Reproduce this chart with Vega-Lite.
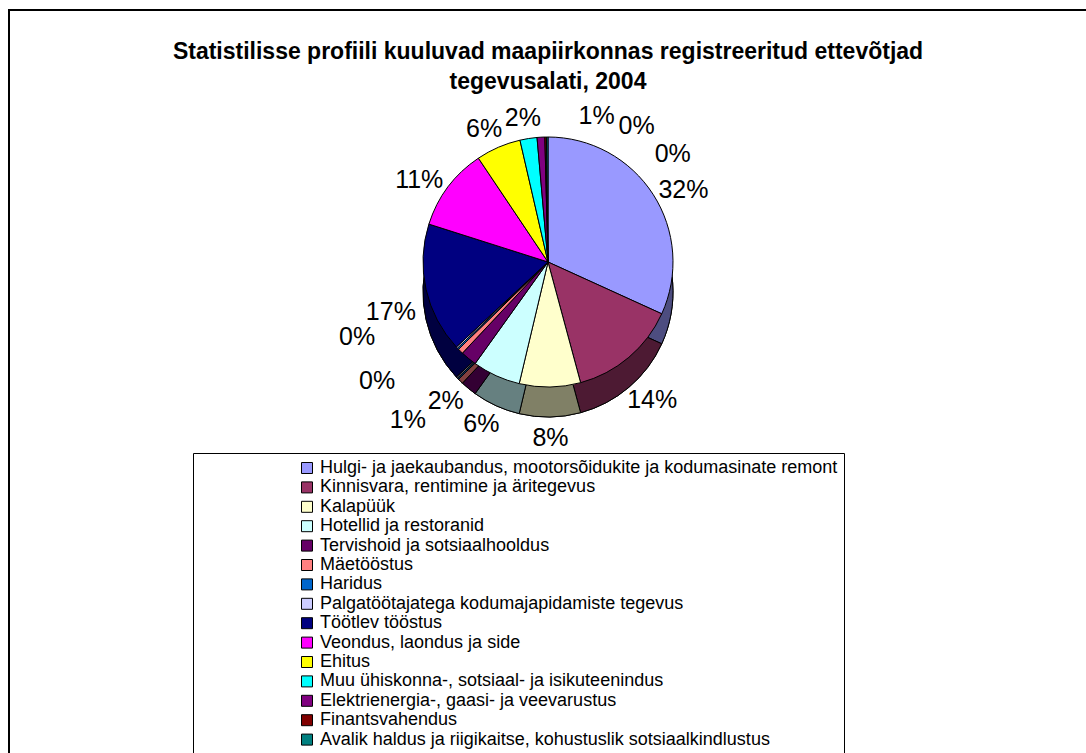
{
  "$schema": "https://vega.github.io/schema/vega-lite/v6.json",
  "autosize": {"type": "none"},
  "width": 1078,
  "height": 800,
  "padding": {"top": 10, "left": 9, "right": 0, "bottom": 0},
  "background": "white",
  "view": {"stroke": "black", "strokeWidth": 2},
  "title": {
    "text": ["Statistilisse profiili kuuluvad maapiirkonnas registreeritud ettevõtjad", "tegevusalati, 2004"],
    "anchor": "middle",
    "font": "Liberation Sans",
    "fontSize": 23,
    "fontWeight": "bold",
    "color": "black",
    "lineHeight": 30,
    "dy": 88
  },
  "data": {
    "values": [
      {"sektor": "Hulgi- ja jaekaubandus, mootorsõidukite ja kodumasinate remont", "osa": 0.318},
      {"sektor": "Kinnisvara, rentimine ja äritegevus", "osa": 0.140},
      {"sektor": "Kalapüük", "osa": 0.079},
      {"sektor": "Hotellid ja restoranid", "osa": 0.062},
      {"sektor": "Tervishoid ja sotsiaalhooldus", "osa": 0.021},
      {"sektor": "Mäetööstus", "osa": 0.007},
      {"sektor": "Haridus", "osa": 0.002},
      {"sektor": "Palgatöötajatega kodumajapidamiste tegevus", "osa": 0.002},
      {"sektor": "Töötlev tööstus", "osa": 0.168},
      {"sektor": "Veondus, laondus ja side", "osa": 0.107},
      {"sektor": "Ehitus", "osa": 0.058},
      {"sektor": "Muu ühiskonna-, sotsiaal- ja isikuteenindus", "osa": 0.022},
      {"sektor": "Elektrienergia-, gaasi- ja veevarustus", "osa": 0.010},
      {"sektor": "Finantsvahendus", "osa": 0.002},
      {"sektor": "Avalik haldus ja riigikaitse, kohustuslik sotsiaalkindlustus", "osa": 0.002}
    ]
  },
  "transform": [{"window": [{"op": "row_number", "as": "idx"}]}],
  "encoding": {
    "theta": {"field": "osa", "type": "quantitative", "stack": true},
    "order": {"field": "idx", "type": "quantitative"}
  },
  "layer": [
    {
      "mark": {"type": "arc", "radius": 125, "yOffset": -118, "fill": "black", "stroke": "black", "strokeWidth": 1}
    },
    {
      "mark": {"type": "arc", "radius": 125, "yOffset": -118, "fillOpacity": 0.5, "stroke": "black", "strokeWidth": 1},
      "encoding": {
        "color": {"field": "sektor", "type": "nominal",
          "scale": {
            "domain": ["Hulgi- ja jaekaubandus, mootorsõidukite ja kodumasinate remont", "Kinnisvara, rentimine ja äritegevus", "Kalapüük", "Hotellid ja restoranid", "Tervishoid ja sotsiaalhooldus", "Mäetööstus", "Haridus", "Palgatöötajatega kodumajapidamiste tegevus", "Töötlev tööstus", "Veondus, laondus ja side", "Ehitus", "Muu ühiskonna-, sotsiaal- ja isikuteenindus", "Elektrienergia-, gaasi- ja veevarustus", "Finantsvahendus", "Avalik haldus ja riigikaitse, kohustuslik sotsiaalkindlustus"],
            "range": ["#9999FF", "#993366", "#FFFFCC", "#CCFFFF", "#660066", "#FF8080", "#0066CC", "#CCCCFF", "#000080", "#FF00FF", "#FFFF00", "#00FFFF", "#800080", "#800000", "#008080"]
          },
          "legend": {
            "orient": "none", "legendX": 184, "legendY": 443, "title": null,
            "direction": "vertical",
            "strokeColor": "black", "fillColor": "white", "padding": 6,
            "symbolType": "square", "symbolSize": 121, "symbolStrokeColor": "black", "symbolStrokeWidth": 1, "symbolOpacity": 1, "symbolOffset": 99,
            "labelFont": "Liberation Sans", "labelFontSize": 18, "labelColor": "black", "labelLimit": 0, "labelOffset": 4,
            "rowPadding": 1.4
          }
        }
      }
    },
    {
      "mark": {"type": "arc", "radius": 125, "yOffset": -148, "stroke": "black", "strokeWidth": 1},
      "encoding": {
        "color": {"field": "sektor", "type": "nominal",
          "legend": {
            "orient": "none", "legendX": 184, "legendY": 443, "title": null,
            "direction": "vertical",
            "strokeColor": "black", "fillColor": "white", "padding": 6,
            "symbolType": "square", "symbolSize": 121, "symbolStrokeColor": "black", "symbolStrokeWidth": 1, "symbolOpacity": 1, "symbolOffset": 99,
            "labelFont": "Liberation Sans", "labelFontSize": 18, "labelColor": "black", "labelLimit": 0, "labelOffset": 4,
            "rowPadding": 1.4
          }
        }
      }
    },
    {
      "mark": {"type": "text", "radius": 161, "yOffset": -133, "font": "Liberation Sans", "fontSize": 25, "color": "black"},
      "encoding": {
        "text": {"condition": {"test": "datum.osa >= 0.015", "field": "osa", "type": "quantitative", "format": ".0%"}, "value": ""}
      }
    },
    {
      "mark": {"type": "text", "radius": 200, "yOffset": -133, "font": "Liberation Sans", "fontSize": 25, "color": "black"},
      "encoding": {
        "text": {"condition": {"test": "datum.sektor === 'Mäetööstus'", "field": "osa", "type": "quantitative", "format": ".0%"}, "value": ""}
      }
    },
    {
      "mark": {"type": "text", "radius": 200, "thetaOffset": 0.22, "yOffset": -133, "font": "Liberation Sans", "fontSize": 25, "color": "black"},
      "encoding": {
        "text": {"condition": {"test": "datum.sektor === 'Haridus'", "field": "osa", "type": "quantitative", "format": ".0%"}, "value": ""}
      }
    },
    {
      "mark": {"type": "text", "radius": 200, "thetaOffset": 0.45, "yOffset": -133, "font": "Liberation Sans", "fontSize": 25, "color": "black"},
      "encoding": {
        "text": {"condition": {"test": "datum.sektor === 'Palgatöötajatega kodumajapidamiste tegevus'", "field": "osa", "type": "quantitative", "format": ".0%"}, "value": ""}
      }
    },
    {
      "mark": {"type": "text", "radius": 168, "thetaOffset": 0.35, "yOffset": -133, "font": "Liberation Sans", "fontSize": 25, "color": "black"},
      "encoding": {
        "text": {"condition": {"test": "datum.sektor === 'Elektrienergia-, gaasi- ja veevarustus'", "field": "osa", "type": "quantitative", "format": ".0%"}, "value": ""}
      }
    },
    {
      "mark": {"type": "text", "radius": 175, "thetaOffset": 0.55, "yOffset": -133, "font": "Liberation Sans", "fontSize": 25, "color": "black"},
      "encoding": {
        "text": {"condition": {"test": "datum.sektor === 'Finantsvahendus'", "field": "osa", "type": "quantitative", "format": ".0%"}, "value": ""}
      }
    },
    {
      "mark": {"type": "text", "radius": 175, "thetaOffset": 0.8, "yOffset": -133, "font": "Liberation Sans", "fontSize": 25, "color": "black"},
      "encoding": {
        "text": {"condition": {"test": "datum.sektor === 'Avalik haldus ja riigikaitse, kohustuslik sotsiaalkindlustus'", "field": "osa", "type": "quantitative", "format": ".0%"}, "value": ""}
      }
    }
  ],
  "config": {
    "view": {"stroke": "black", "strokeWidth": 2}
  }
}
